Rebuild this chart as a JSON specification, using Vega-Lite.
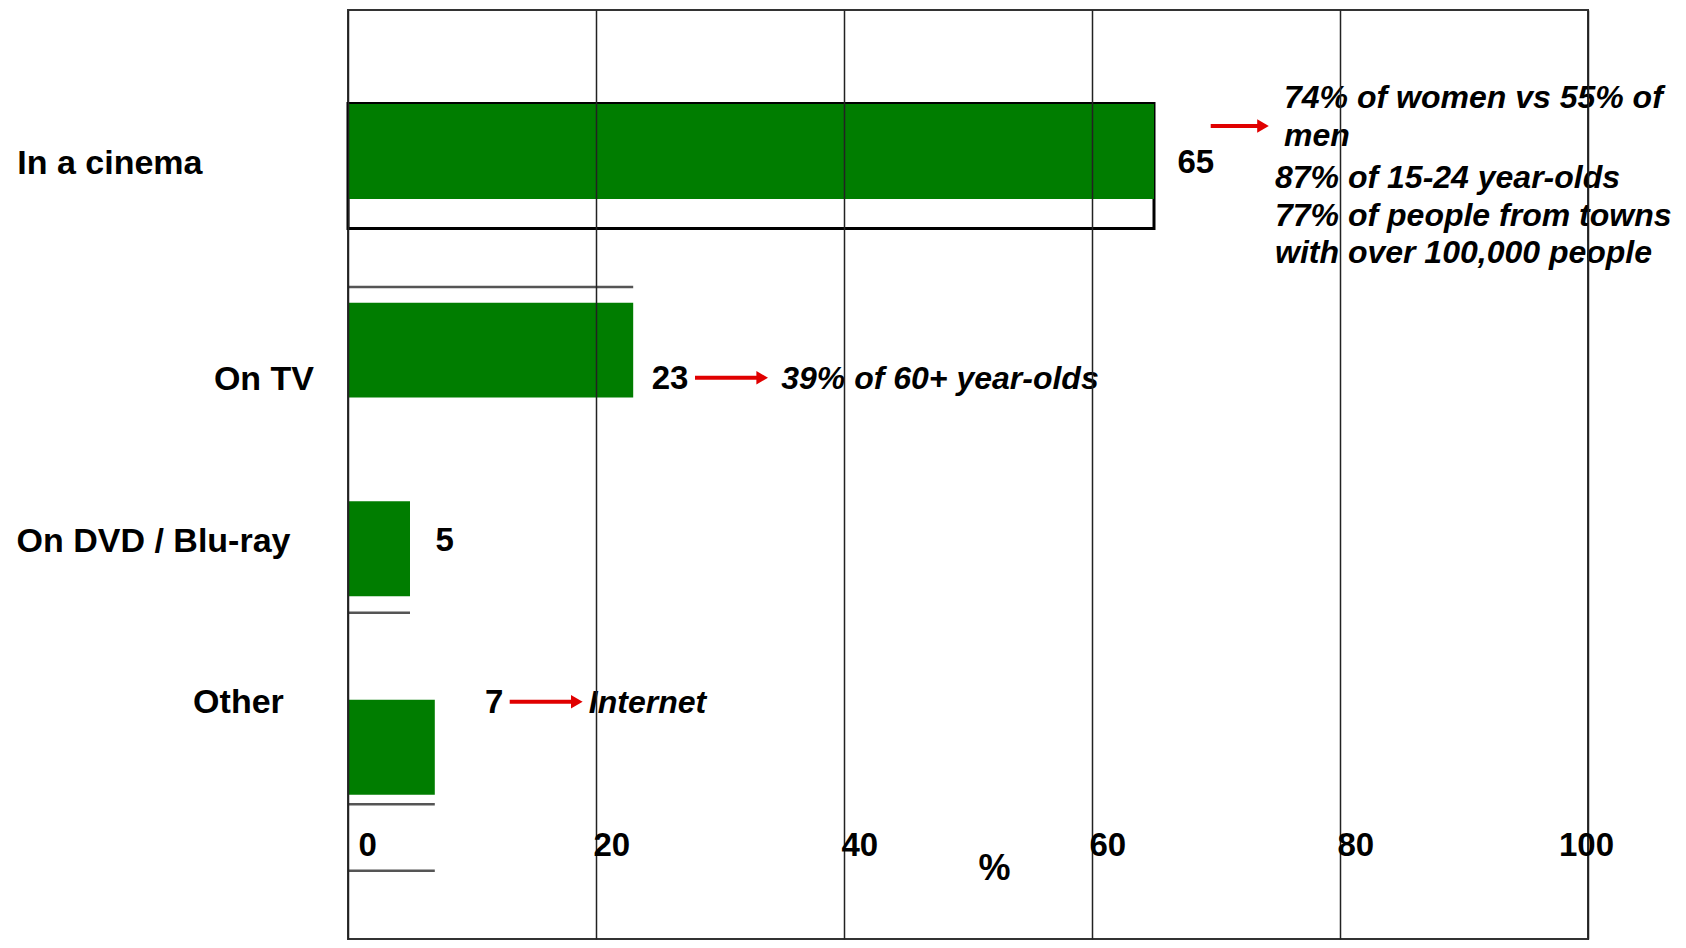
{
  "$schema": "https://vega.github.io/schema/vega-lite/v6.json",
  "width": 1240,
  "height": 929,
  "autosize": "none",
  "padding": {"left": 348, "top": 10, "right": 98, "bottom": 9},
  "background": "white",
  "config": {
    "view": {"stroke": "#333", "strokeWidth": 2},
    "font": "Liberation Sans"
  },
  "data": {
    "values": [
      {"category": "In a cinema", "value": 65, "note": "74% of women vs 55% of\nmen", "note2": "87% of 15-24 year-olds\n77% of people from towns\nwith over 100,000 people"},
      {"category": "On TV", "value": 23, "note": "39% of 60+ year-olds"},
      {"category": "On DVD / Blu-ray", "value": 5},
      {"category": "Other", "value": 7, "note": "Internet"}
    ]
  },
  "encoding": {
    "y": {
      "field": "category", "type": "nominal", "sort": null,
      "scale": {"range": [0, 929], "paddingInner": 0.522, "paddingOuter": 0.6, "align": 0.3947},
      "axis": {
        "title": null, "domain": false, "ticks": false, "tickSize": 0, "grid": false,
        "labelFont": "Liberation Sans", "labelFontSize": 34, "labelFontWeight": "bold", "labelColor": "black",
        "labelBaseline": "alphabetic", "labelAlign": "right", "labelLimit": 0,
        "labelOffset": {"condition": [
          {"test": "datum.value === 'In a cinema'", "value": 22.5},
          {"test": "datum.value === 'On TV'", "value": 39.9},
          {"test": "datum.value === 'On DVD / Blu-ray'", "value": 3.6}
        ], "value": -34},
        "labelPadding": {"condition": [
          {"test": "datum.value === 'In a cinema'", "value": 146},
          {"test": "datum.value === 'On TV'", "value": 34.5},
          {"test": "datum.value === 'On DVD / Blu-ray'", "value": 58}
        ], "value": 64.7}
      }
    },
    "x": {
      "field": "value", "type": "quantitative",
      "scale": {"domain": [0, 100], "nice": false, "zero": true},
      "axis": {
        "values": [0, 20, 40, 60, 80, 100],
        "domain": false, "ticks": false, "tickSize": 0,
        "grid": true, "gridColor": "#222", "gridWidth": 1.5, "gridOpacity": 1,
        "zindex": 1,
        "labelFont": "Liberation Sans", "labelFontSize": 33, "labelFontWeight": "bold", "labelColor": "black",
        "labelBaseline": "alphabetic", "labelPadding": -83.3,
        "labelAlign": {"condition": {"test": "datum.value === 100", "value": "center"}, "value": "left"},
        "labelOffset": {"condition": [
          {"test": "datum.value === 0", "value": 10},
          {"test": "datum.value === 100", "value": -2}
        ], "value": -3},
        "labelFlush": false, "labelOverlap": false,
        "title": "%", "titleFont": "Liberation Sans", "titleFontSize": 36, "titleFontWeight": "bold", "titleColor": "black",
        "titleX": 646, "titleY": -60, "titleAlign": "center", "titleBaseline": "alphabetic", "titleAnchor": null
      }
    }
  },
  "layer": [
    {
      "transform": [{"filter": "datum.category === 'In a cinema'"}],
      "mark": {"type": "bar", "fill": "white", "stroke": "black", "strokeWidth": 3, "height": 125, "yOffset": 14.5}
    },
    {
      "mark": {"type": "bar", "color": "#007d00"}
    },
    {
      "transform": [{"filter": "datum.category === 'On TV'"}],
      "mark": {"type": "rule", "color": "#555", "strokeWidth": 2.5, "yOffset": -63},
      "encoding": {"x": {"datum": 0}, "x2": {"field": "value"}}
    },
    {
      "transform": [{"filter": "datum.category === 'On DVD / Blu-ray'"}],
      "mark": {"type": "rule", "color": "#555", "strokeWidth": 2.5, "yOffset": 64},
      "encoding": {"x": {"datum": 0}, "x2": {"field": "value"}}
    },
    {
      "transform": [{"filter": "datum.category === 'Other'"}],
      "mark": {"type": "rule", "color": "#555", "strokeWidth": 2.5, "yOffset": 57},
      "encoding": {"x": {"datum": 0}, "x2": {"field": "value"}}
    },
    {
      "transform": [{"filter": "datum.category === 'Other'"}],
      "mark": {"type": "rule", "color": "#555", "strokeWidth": 2.5, "yOffset": 123.4},
      "encoding": {"x": {"datum": 0}, "x2": {"field": "value"}}
    },
    {
      "transform": [{"filter": "datum.category === 'In a cinema'"}],
      "mark": {"type": "rule", "color": "#e00000", "strokeWidth": 4, "xOffset": 56.7, "x2Offset": 104, "yOffset": -25.5},
      "encoding": {"x2": {"field": "value"}}
    },
    {
      "transform": [{"filter": "datum.category === 'In a cinema'"}],
      "mark": {"type": "point", "shape": "triangle-right", "filled": true, "color": "#e00000", "opacity": 1, "size": 180, "xOffset": 109, "yOffset": -25.5}
    },
    {
      "transform": [{"filter": "datum.category === 'On TV'"}],
      "mark": {"type": "rule", "color": "#e00000", "strokeWidth": 4, "xOffset": 61.8, "x2Offset": 124, "yOffset": 27.6},
      "encoding": {"x2": {"field": "value"}}
    },
    {
      "transform": [{"filter": "datum.category === 'On TV'"}],
      "mark": {"type": "point", "shape": "triangle-right", "filled": true, "color": "#e00000", "opacity": 1, "size": 180, "xOffset": 129, "yOffset": 27.6}
    },
    {
      "transform": [{"filter": "datum.category === 'Other'"}],
      "mark": {"type": "rule", "color": "#e00000", "strokeWidth": 4, "xOffset": 74.9, "x2Offset": 137, "yOffset": -45.6},
      "encoding": {"x2": {"field": "value"}}
    },
    {
      "transform": [{"filter": "datum.category === 'Other'"}],
      "mark": {"type": "point", "shape": "triangle-right", "filled": true, "color": "#e00000", "opacity": 1, "size": 180, "xOffset": 142, "yOffset": -45.6}
    },
    {
      "transform": [{"filter": "datum.category === 'In a cinema'"}],
      "mark": {"type": "text", "align": "left", "baseline": "alphabetic", "fontSize": 33, "fontWeight": "bold", "color": "black", "dx": 23.5, "dy": 21.8},
      "encoding": {"text": {"field": "value"}}
    },
    {
      "transform": [{"filter": "datum.category === 'On TV'"}],
      "mark": {"type": "text", "align": "left", "baseline": "alphabetic", "fontSize": 33, "fontWeight": "bold", "color": "black", "dx": 18.5, "dy": 39.2},
      "encoding": {"text": {"field": "value"}}
    },
    {
      "transform": [{"filter": "datum.category === 'On DVD / Blu-ray'"}],
      "mark": {"type": "text", "align": "left", "baseline": "alphabetic", "fontSize": 33, "fontWeight": "bold", "color": "black", "dx": 25.5, "dy": 2.6},
      "encoding": {"text": {"field": "value"}}
    },
    {
      "transform": [{"filter": "datum.category === 'Other'"}],
      "mark": {"type": "text", "align": "left", "baseline": "alphabetic", "fontSize": 33, "fontWeight": "bold", "color": "black", "dx": 50.3, "dy": -34},
      "encoding": {"text": {"field": "value"}}
    },
    {
      "transform": [{"filter": "datum.category === 'In a cinema'"}],
      "mark": {"type": "text", "align": "left", "baseline": "alphabetic", "fontSize": 32, "fontWeight": "bold", "fontStyle": "italic", "color": "black", "dx": 130, "dy": -43.2, "lineBreak": "\n", "lineHeight": 37.4},
      "encoding": {"text": {"field": "note"}}
    },
    {
      "transform": [{"filter": "datum.category === 'In a cinema'"}],
      "mark": {"type": "text", "align": "left", "baseline": "alphabetic", "fontSize": 32, "fontWeight": "bold", "fontStyle": "italic", "color": "black", "dx": 121, "dy": 36.8, "lineBreak": "\n", "lineHeight": 37.2},
      "encoding": {"text": {"field": "note2"}}
    },
    {
      "transform": [{"filter": "datum.category === 'On TV'"}],
      "mark": {"type": "text", "align": "left", "baseline": "alphabetic", "fontSize": 32, "fontWeight": "bold", "fontStyle": "italic", "color": "black", "dx": 148, "dy": 39.2},
      "encoding": {"text": {"field": "note"}}
    },
    {
      "transform": [{"filter": "datum.category === 'Other'"}],
      "mark": {"type": "text", "align": "left", "baseline": "alphabetic", "fontSize": 32, "fontWeight": "bold", "fontStyle": "italic", "color": "black", "dx": 154, "dy": -34},
      "encoding": {"text": {"field": "note"}}
    }
  ]
}
